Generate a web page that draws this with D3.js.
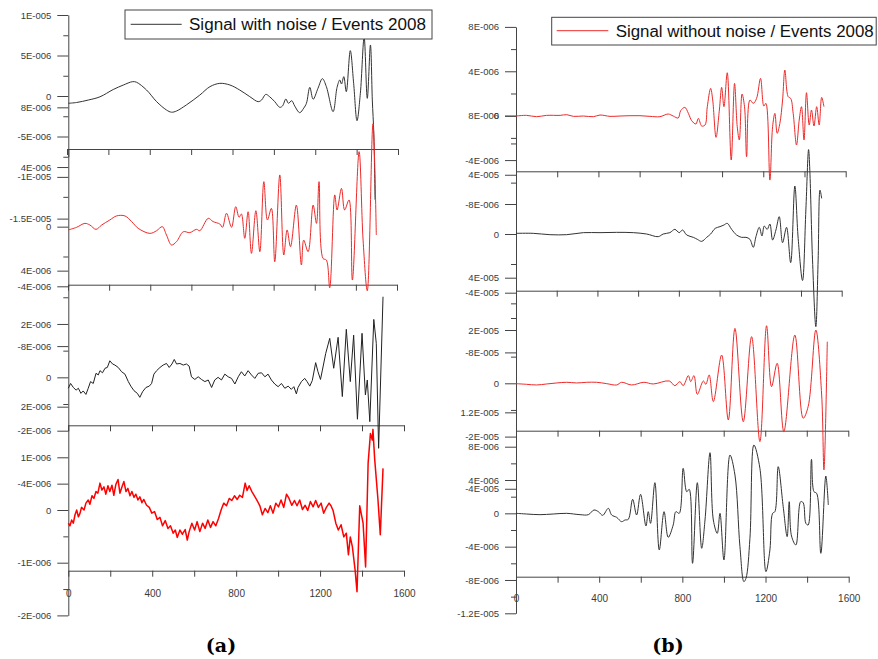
<!DOCTYPE html>
<html>
<head>
<meta charset="utf-8">
<script src="https://cdn.jsdelivr.net/npm/d3@7"></script>
<style>
  body { margin: 0; background: #fff; }
  svg { display: block; }
</style>
</head>
<body>
<svg id="chart" width="878" height="659"></svg>
<script>
// x axis ticks (shared by every panel)
const xTicks = [0, 200, 400, 600, 800, 1000, 1200, 1400, 1600];
const xLabels = [0, 400, 800, 1200, 1600];

const legendA = 'Signal with noise / Events 2008';
const legendB = 'Signal without noise / Events 2008';
const captions = ['(a)', '(b)'];

// signals: [sample, amplitude in units of 1E-006]
const sigA1 = [[0,-0.9],[40,-0.8],[95,-0.5],[151,-0.1],[214,0.8],[262,1.35],[306,1.77],[325,1.7],[373,0.74],[421,-0.7],[468,-1.73],[492,-2.0],[516,-1.85],[563,-1.1],[627,0.12],[675,1.15],[722,1.56],[770,1.36],[817,0.74],[865,-0.08],[905,-0.7],[921,-0.5],[941,0.2],[960,-0.1],[984,-0.7],[1008,-1.4],[1021,-1.23],[1037,-0.37],[1049,-0.9],[1065,-0.58],[1079,-1.23],[1103,-2.06],[1122,-1.5],[1135,-0.9],[1151,1.07],[1167,-0.4],[1190,0.95],[1211,2.14],[1230,1.15],[1262,-1.93],[1281,1.07],[1294,1.98],[1302,1.48],[1313,2.39],[1325,0.53],[1344,5.6],[1360,1.56],[1376,-3.05],[1392,0.33],[1410,7.24],[1425,-0.29],[1440,6.3],[1449,-0.5],[1456,-4.6],[1462,-12.8]];

const sigA2 = [[0,-0.22],[40,-0.04],[79,0.22],[103,0.11],[132,-0.18],[159,0.11],[198,0.45],[230,0.72],[270,0.72],[302,0.34],[333,-0.11],[389,-0.45],[421,-0.27],[448,0],[468,-0.56],[492,-1.23],[516,-1.0],[548,-0.34],[579,-0.4],[611,-0.18],[627,-0.27],[667,0.56],[690,0.34],[722,0.18],[735,-0.04],[754,0.9],[778,-0.04],[798,1.34],[814,0.63],[825,0.85],[841,-0.78],[857,1.0],[873,-1.79],[894,1.07],[913,-1.68],[932,3.02],[949,0.45],[968,1.23],[984,-2.35],[1008,3.47],[1027,-1.9],[1043,-0.22],[1059,-1.34],[1087,1.45],[1111,-2.57],[1122,-0.9],[1143,-1.68],[1167,1.45],[1183,0.22],[1195,3.02],[1214,-2.13],[1230,-2.24],[1246,-4.1],[1270,2.13],[1281,1.12],[1302,2.57],[1317,1.12],[1338,1.79],[1354,-3.58],[1386,5.03],[1405,-0.9],[1425,-4.3],[1452,6.9],[1468,-0.56]];

const sigA3 = [[0,-0.41],[11,-0.23],[24,-0.38],[37,-0.48],[48,-0.41],[60,-0.6],[71,-0.51],[84,-0.64],[95,-0.41],[106,-0.16],[119,-0.23],[132,0.15],[143,0.09],[151,0.25],[163,0.17],[175,0.34],[186,0.37],[198,0.62],[211,0.5],[222,0.46],[238,0.37],[254,0.21],[270,0.12],[286,-0.16],[298,-0.33],[313,-0.5],[329,-0.6],[341,-0.75],[354,-0.54],[370,-0.38],[386,-0.33],[397,-0.23],[408,0.12],[421,0.25],[437,0.37],[452,0.46],[468,0.52],[481,0.37],[494,0.5],[505,0.67],[516,0.5],[532,0.52],[548,0.46],[563,0.5],[576,0.42],[587,0.02],[603,-0.08],[619,0.02],[635,-0.08],[651,-0.16],[667,-0.1],[683,-0.38],[698,-0.1],[714,0],[730,-0.1],[746,0.12],[762,0.02],[778,-0.04],[794,-0.25],[810,0.02],[825,0.21],[841,0.05],[857,0.25],[873,0.09],[889,-0.04],[905,0.15],[921,0.17],[937,0.02],[952,0.12],[968,-0.1],[984,-0.25],[1000,-0.35],[1016,-0.23],[1032,-0.41],[1048,-0.33],[1063,-0.45],[1075,-0.35],[1087,-0.62],[1095,-0.38],[1111,-0.16],[1127,-0.04],[1138,-0.16],[1151,-0.33],[1163,-0.12],[1179,0.55],[1190,0.21],[1202,-0.08],[1211,0.27],[1227,0.9],[1246,1.46],[1265,0.34],[1286,1.5],[1306,-0.72],[1325,1.8],[1344,-0.16],[1360,1.58],[1378,-1.57],[1400,1.65],[1416,-0.66],[1425,-0.1],[1437,-1.66],[1456,2.17],[1468,1.27],[1479,-2.66],[1500,3.02]];

const sigA4 = [[0,-0.25],[8,-0.3],[16,-0.19],[24,-0.25],[32,-0.09],[40,0],[48,-0.13],[56,-0.06],[63,0.05],[75,0],[84,0.13],[95,0.19],[103,0.11],[113,0.27],[122,0.22],[132,0.35],[141,0.32],[151,0.51],[160,0.38],[170,0.44],[179,0.3],[189,0.46],[198,0.35],[208,0.47],[217,0.28],[227,0.49],[237,0.58],[246,0.32],[256,0.44],[265,0.54],[275,0.35],[284,0.41],[294,0.27],[303,0.35],[313,0.24],[322,0.3],[332,0.19],[341,0.25],[351,0.14],[360,0.2],[373,0.09],[386,0.05],[398,-0.06],[411,-0.03],[424,-0.18],[437,-0.14],[449,-0.3],[462,-0.2],[475,-0.35],[487,-0.3],[500,-0.44],[510,-0.38],[519,-0.52],[532,-0.38],[544,-0.46],[557,-0.37],[567,-0.57],[576,-0.41],[589,-0.25],[602,-0.38],[614,-0.22],[627,-0.41],[640,-0.25],[652,-0.35],[665,-0.19],[678,-0.33],[690,-0.22],[703,-0.3],[716,-0.16],[729,0.01],[741,0.13],[754,0.08],[767,0.22],[779,0.18],[792,0.27],[805,0.2],[817,0.28],[830,0.24],[843,0.51],[852,0.37],[862,0.46],[875,0.35],[887,0.27],[900,0.18],[913,0.08],[925,-0.09],[938,0.03],[951,-0.05],[963,0.08],[976,-0.06],[989,0.13],[1002,0.06],[1014,0.19],[1027,0.05],[1040,0.3],[1052,0.22],[1065,0.09],[1078,0.18],[1090,0.08],[1103,0.19],[1116,0.01],[1129,0.09],[1141,-0.01],[1154,0.16],[1167,0.06],[1179,0.18],[1192,0.05],[1205,0.13],[1217,-0.06],[1230,0.05],[1243,0.13],[1252,0.08],[1262,-0.01],[1275,-0.25],[1287,-0.38],[1300,-0.28],[1313,-0.51],[1325,-0.44],[1335,-0.85],[1344,-0.51],[1354,-0.7],[1367,-1.14],[1376,-1.55],[1389,0.08],[1405,-0.25],[1417,-1.08],[1429,0.89],[1440,1.45],[1449,1.33],[1452,1.53],[1460,0.98],[1476,0.19],[1487,-0.47],[1500,0.79]];

const sigB1 = [[0,-0.03],[51,0.03],[99,-0.09],[147,0.03],[212,0.03],[244,0.09],[276,-0.06],[324,-0.03],[372,-0.09],[404,0.06],[452,-0.06],[500,-0.03],[548,0],[596,0],[644,-0.06],[692,-0.09],[732,0.15],[756,-0.03],[780,-0.21],[792,0.45],[812,0.75],[829,0.21],[845,-0.45],[865,-0.75],[877,-0.24],[893,-0.93],[909,-0.84],[920,0.81],[936,2.46],[946,1.41],[962,-1.95],[978,0.51],[989,2.55],[1000,0.81],[1016,3.87],[1035,-3.99],[1051,2.91],[1064,-0.99],[1074,-2.19],[1087,1.95],[1099,0.81],[1109,-3.69],[1125,1.41],[1141,1.11],[1157,1.56],[1176,3.36],[1192,0.87],[1202,1.11],[1221,-5.8],[1234,-0.99],[1245,0.21],[1256,-1.59],[1269,-0.69],[1282,1.41],[1293,4.11],[1309,1.71],[1321,1.56],[1333,0.21],[1349,-2.64],[1362,-0.39],[1373,0.81],[1385,-2.19],[1397,2.07],[1410,-0.84],[1421,0.51],[1433,-0.93],[1446,0.81],[1458,-0.84],[1470,1.65],[1481,0.81]];

const sigB2 = [[0,0.18],[83,0.18],[163,-0.18],[244,-0.18],[324,0.36],[404,0.36],[484,0.44],[564,0.36],[628,0],[684,-0.71],[708,0],[740,0.36],[764,1.24],[785,0.36],[801,1.07],[821,-0.27],[853,-0.89],[872,-1.42],[893,-1.96],[917,-0.89],[936,0],[958,1.51],[981,1.96],[1000,2.4],[1016,2.84],[1037,1.24],[1061,-0.27],[1085,-0.89],[1106,-0.89],[1125,-1.42],[1141,-3.56],[1154,-0.71],[1170,1.78],[1183,-0.53],[1194,2.13],[1208,1.24],[1221,2.67],[1234,-1.6],[1250,1.07],[1266,4.62],[1282,-2.31],[1301,1.78],[1321,-7.64],[1341,12.8],[1357,-1.16],[1378,-12.4],[1394,6.4],[1407,22.5],[1413,17],[1426,-6.9],[1442,-24.7],[1453,-6.9],[1462,11.7],[1470,9.5]];

const sigB3 = [[0,-0.13],[51,-0.38],[99,-0.63],[147,-0.25],[196,0.13],[244,0.38],[292,0.13],[340,0.38],[388,0.38],[436,-0.13],[484,-0.63],[508,0.38],[556,-0.63],[615,0.38],[660,-0.25],[737,0.88],[764,-0.88],[788,0.63],[804,-0.88],[829,2.88],[840,0.63],[856,2.88],[872,-4.13],[901,0.88],[913,-0.38],[929,3.13],[949,-6.88],[989,10.6],[1021,-13.75],[1053,20.6],[1093,-14.4],[1133,17.5],[1173,-21.9],[1205,21.6],[1229,-1.25],[1256,7.5],[1288,-18.1],[1341,18.1],[1381,-13.1],[1405,-8.75],[1442,20],[1470,-4.4],[1481,-32.5],[1497,15.6]];

const sigB4 = [[0,0],[51,-0.08],[115,-0.16],[179,-0.08],[244,0],[308,-0.16],[348,-0.16],[375,0.4],[396,0.2],[417,-0.24],[444,0.6],[460,-0.2],[484,-0.48],[508,-1.0],[524,-0.8],[540,-0.72],[561,1.68],[580,-0.2],[599,2.28],[625,-1.52],[636,0.2],[647,-1.2],[668,3.68],[689,-4.4],[712,0.2],[732,-2.88],[756,-1.4],[769,0.2],[785,0],[804,5.4],[821,2.6],[833,2.88],[849,-6.0],[872,3.68],[893,-4.2],[909,-0.8],[933,7.28],[949,-0.8],[968,-2.4],[981,0],[1000,-5.6],[1029,7.0],[1053,4.6],[1077,-4.0],[1096,-8.2],[1106,-7.8],[1125,-3.0],[1144,8.2],[1173,5.4],[1202,-7.0],[1221,-4.4],[1234,0],[1245,0.2],[1261,5.6],[1285,0.8],[1304,-2.8],[1314,1.4],[1325,-2.72],[1346,-3.8],[1369,1.4],[1381,1.28],[1394,-1.2],[1405,-1.4],[1421,6.48],[1433,2.6],[1446,2.4],[1466,-4.8],[1490,4.48],[1502,1.0]];

// y tick labels per panel: [value in 1E-006, label]
const ticksA1 = [[10,'1E-005'],[5,'5E-006'],[0,'0'],[-5,'-5E-006']];
const ghostA1 = [[-1.4,'8E-006']];
const minorA1 = [7.5, 2.5, -2.5, -7.5];
const ticksA2 = [[4,'4E-006'],[0,'0'],[-4,'-4E-006']];
const ghostA2 = [[3.34,'-1E-005'],[0.54,'-1.5E-005'],[-2.95,'4E-006']];
const minorA2 = [2, -2];
const ticksA3 = [[2,'2E-006'],[0,'0'],[-2,'-2E-006']];
const ghostA3 = [[1.17,'-8E-006'],[-1.1,'2E-006']];
const minorA3 = [3, 1, -1];
const ticksA4 = [[1,'1E-006'],[0,'0'],[-1,'-1E-006'],[-2,'-2E-006']];
const ghostA4 = [[0.5,'-4E-006']];
const minorA4 = [-0.5, -1.5];
const ticksB1 = [[8,'8E-006'],[4,'4E-006'],[0,'0'],[-4,'-4E-006']];
const ghostB1 = [[0,'8E-006']];
const minorB1 = [6, 2, -2, -2.5];
const ticksB2 = [[8,'-8E-006'],[0,'0']];
const ghostB2 = [[15.8,'4E-005'],[-11.65,'4E-005'],[-15.65,'-4E-005']];
const minorB2 = [13.7, -8];
const ticksB3 = [[20,'2E-005'],[0,'0'],[-20,'-2E-005']];
const ghostB3 = [[11.6,'-8E-005'],[-10.9,'1.2E-005']];
const minorB3 = [30, 24.5, 10, -10];
const ticksB4 = [[8,'8E-006'],[4,'4E-006'],[0,'0'],[-4,'-4E-006'],[-8,'-8E-006'],[-12,'-1.2E-005']];
const ghostB4 = [[2.95,'-4E-005']];
const minorB4 = [6, 2, -2, -6, -10];

const svg = d3.select('#chart');
const font = '"Liberation Sans", Arial, sans-serif';
const axisColor = '#444';
const red = '#ee2a2a';

// column layout
const columns = [
  { axisX: 68.3, xRange: [68.3, 404], labelPad: 13 },
  { axisX: 516, xRange: [516, 848.7], labelPad: 12 }
];

const smooth = d3.curveCatmullRom.alpha(0.5);

const panels = [
  { col: 0, data: sigA1, color: '#333', width: 1, curve: smooth, ticks: ticksA1, ghost: ghostA1, minor: minorA1,
    domain: [10, -7.5], range: [15, 156.75], sepY: 149, sepX: [67, 398] },
  { col: 0, data: sigA2, color: red, width: 1, curve: smooth, ticks: ticksA2, ghost: ghostA2, minor: minorA2,
    domain: [5.21, -4], range: [149, 286.3], sepY: 284.7, sepX: [68, 397] },
  { col: 0, data: sigA3, color: '#222', width: 1, curve: d3.curveLinear, ticks: ticksA3, ghost: ghostA3, minor: minorA3,
    domain: [3.46, -2], range: [285, 430.7], sepY: 425.3, sepX: [68, 404] },
  { col: 0, data: sigA4, color: '#ff0000', width: 1.5, curve: d3.curveLinear, ticks: ticksA4, ghost: ghostA4, minor: minorA4,
    domain: [1.613, -2], range: [425, 615.4], sepY: 570.7, sepX: [68.3, 404], labels: true },
  { col: 1, data: sigB1, color: red, width: 1, curve: smooth, ticks: ticksB1, ghost: ghostB1, minor: minorB1,
    domain: [8, -5.01], range: [26.9, 171.3], sepY: 171.3, sepX: [516, 845.7] },
  { col: 1, data: sigB2, color: '#333', width: 1, curve: smooth, ticks: ticksB2, ghost: ghostB2, minor: minorB2,
    domain: [16.72, -15.65], range: [171.3, 292.7], sepY: 290.7, sepX: [516, 841.7] },
  { col: 1, data: sigB3, color: red, width: 1, curve: smooth, ticks: ticksB3, ghost: ghostB3, minor: minorB3,
    domain: [34.75, -20], range: [290.7, 436.6], sepY: 430.7, sepX: [516, 848.3] },
  { col: 1, data: sigB4, color: '#333', width: 1, curve: smooth, ticks: ticksB4, ghost: ghostB4, minor: minorB4,
    domain: [9.92, -12], range: [430.7, 613.3], sepY: 576.7, sepX: [516, 848.7], labels: true }
];

function styleAxis(g) {
  g.attr('font-family', font).attr('font-size', 9.5);
  g.selectAll('path, line').attr('stroke', axisColor);
  g.selectAll('text').attr('fill', '#3a3a3a');
}

panels.forEach(p => {
  const col = columns[p.col];
  const x = d3.scaleLinear().domain([0, 1600]).range(col.xRange);
  const y = d3.scaleLinear().domain(p.domain).range(p.range);

  // separator / x axis
  const sepScale = d3.scaleLinear().domain([0, 1600]).range(p.sepX);
  const xAxis = d3.axisBottom(sepScale)
    .tickValues(xTicks)
    .tickSize(6)
    .tickSizeOuter(0)
    .tickPadding(col.labelPad)
    .tickFormat(d => (p.labels && xLabels.includes(d)) ? d : '');
  const gx = svg.append('g')
    .attr('transform', `translate(0,${p.sepY})`)
    .call(xAxis);
  styleAxis(gx);
  gx.attr('font-size', 10);

  // y axis: main ticks
  const gy = svg.append('g')
    .attr('transform', `translate(${col.axisX},0)`)
    .call(d3.axisLeft(y)
      .tickValues(p.ticks.map(t => t[0]))
      .tickFormat(d => p.ticks.find(t => t[0] === d)[1])
      .tickSize(11)
      .tickSizeOuter(0)
      .tickPadding(6));
  styleAxis(gy);

  // leftover labels from overlapping axes
  const gg = svg.append('g')
    .attr('transform', `translate(${col.axisX},0)`)
    .call(d3.axisLeft(y)
      .tickValues(p.ghost.map(t => t[0]))
      .tickFormat(d => p.ghost.find(t => t[0] === d)[1])
      .tickSize(11)
      .tickPadding(6));
  gg.select('.domain').remove();
  styleAxis(gg);

  const gm = svg.append('g')
    .attr('transform', `translate(${col.axisX},0)`)
    .call(d3.axisLeft(y).tickValues(p.minor).tickSize(5).tickFormat(''));
  gm.select('.domain').remove();
  styleAxis(gm);

  // signal
  const line = d3.line().curve(p.curve).x(d => x(d[0])).y(d => y(d[1]));
  svg.append('path')
    .datum(p.data)
    .attr('d', line)
    .attr('fill', 'none')
    .attr('stroke', p.color)
    .attr('stroke-width', p.width)
    .attr('stroke-linejoin', 'round');
});

// legends
function legend(box, lineX, lineY, color, label, textX, textY, textLen) {
  svg.append('rect')
    .attr('x', box[0]).attr('y', box[1])
    .attr('width', box[2]).attr('height', box[3])
    .attr('fill', '#fff').attr('stroke', '#444').attr('stroke-width', 1);
  svg.append('line')
    .attr('x1', lineX[0]).attr('x2', lineX[1])
    .attr('y1', lineY).attr('y2', lineY)
    .attr('stroke', color).attr('stroke-width', 1);
  svg.append('text')
    .attr('x', textX).attr('y', textY)
    .attr('font-family', font).attr('font-size', 16)
    .attr('fill', '#111')
    .attr('textLength', textLen)
    .attr('lengthAdjust', 'spacingAndGlyphs')
    .text(label);
}
legend([125, 10, 307, 29], [130.7, 181.7], 24.3, '#333', legendA, 189, 29.8, 237);
legend([551.7, 17.3, 324.5, 27.7], [556.7, 608.3], 30.7, red, legendB, 615.7, 36.8, 258);

// captions
svg.selectAll('text.caption')
  .data(captions)
  .enter()
  .append('text')
  .attr('class', 'caption')
  .attr('x', (d, i) => i === 0 ? 221 : 668)
  .attr('y', 652)
  .attr('text-anchor', 'middle')
  .attr('font-family', '"DejaVu Serif", serif')
  .attr('font-weight', 'bold')
  .attr('font-size', 19)
  .attr('fill', '#000')
  .text(d => d);
</script>
</body>
</html>
